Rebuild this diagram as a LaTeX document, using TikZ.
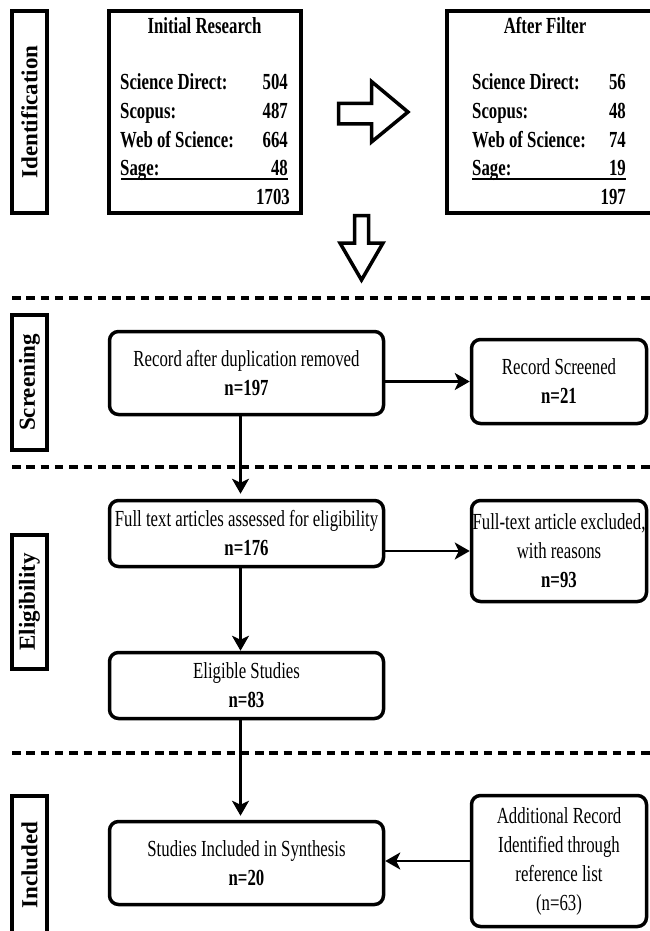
\documentclass[tikz,border=0pt]{standalone}
\usepackage{fontspec}
\setmainfont{Liberation Serif}[FakeStretch=0.73]
\newfontfamily\sidefont{Liberation Serif}
\usetikzlibrary{arrows.meta,calc}

\tikzset{
  sidelabel/.style={draw, line width=4pt, rotate=90, minimum height=35pt, inner sep=0pt,
    font=\sidefont\bfseries\fontsize{23}{28}\selectfont},
  listbox/.style={draw, line width=4pt, minimum height=202pt},
  listtext/.style={font=\bfseries\fontsize{23}{28}\selectfont, inner sep=0pt},
  stepbox/.style={draw, line width=3.5pt, rounded corners=9pt, inner sep=1pt, align=center,
    font=\fontsize{23}{29}\selectfont},
  flow/.style={-{Stealth[length=15pt,width=17pt,inset=4pt]}, line width=2.5pt},
  sepline/.style={line width=4pt, dash pattern=on 8.5pt off 5.8pt},
  bigarrow/.style={line width=3.5pt, line join=miter}
}

\begin{document}
\begin{tikzpicture}[x=1pt,y=-1pt]
\useasboundingbox (0,0) rectangle (649,931);

% Phase labels on the left
\node[sidelabel, minimum width=202pt] (idLab) at (29.5,112) {Identification};
\node[sidelabel, minimum width=135pt] (scLab) at (29.5,382.5) {Screening};
\node[sidelabel, minimum width=134pt] (elLab) at (29.5,602) {Eligibility};
\node[sidelabel, minimum width=138pt] (inLab) at (29.5,865) {Included};

% Separators between phases
\foreach \y in {298,467,753} {
    \draw[sepline] (12,\y) -- (652,\y);
}

% Initial research box
\node[listbox, minimum width=192pt] (init) at (205,112) {};
\node[listtext, anchor=base] (initTitle) at (204.5,34) {Initial Research};
\node[listtext, anchor=base west] (initSD) at (120,90) {Science Direct:}; \node[listtext, anchor=base east] (initSDn) at (288,90) {504};
\node[listtext, anchor=base west] (initSc) at (120,118.5) {Scopus:}; \node[listtext, anchor=base east] (initScn) at (288,118.5) {487};
\node[listtext, anchor=base west] (initWS) at (120,147) {Web of Science:}; \node[listtext, anchor=base east] (initWSn) at (288,147) {664};
\node[listtext, anchor=base west] (initSa) at (120,175.5) {Sage:}; \node[listtext, anchor=base east] (initSan) at (288,175.5) {48};
\draw[line width=1.3pt] (121,179) -- (288,179);
\node[listtext, anchor=base east] (initTot) at (290,204) {1703};

% After filter box (runs past the right edge)
\node[listbox, minimum width=206pt] (after) at (550,112) {};
\node[listtext, anchor=base] (afterTitle) at (545,34) {After Filter};
\node[listtext, anchor=base west] (afterSD) at (472,90) {Science Direct:}; \node[listtext, anchor=base east] (afterSDn) at (626,90) {56};
\node[listtext, anchor=base west] (afterSc) at (472,118.5) {Scopus:}; \node[listtext, anchor=base east] (afterScn) at (626,118.5) {48};
\node[listtext, anchor=base west] (afterWS) at (472,147) {Web of Science:}; \node[listtext, anchor=base east] (afterWSn) at (626,147) {74};
\node[listtext, anchor=base west] (afterSa) at (472,175.5) {Sage:}; \node[listtext, anchor=base east] (afterSan) at (626,175.5) {19};
\draw[line width=1.3pt] (472,179) -- (626,179);
\node[listtext, anchor=base east] (afterTot) at (626,204) {197};

% Hollow block arrows
\draw[bigarrow] (338.5,103.5) -- (371.5,103.5) -- (371.5,81.5) -- (408,112)
    -- (371.5,142) -- (371.5,124) -- (338.5,124) -- cycle;
\draw[bigarrow] (354.5,215.5) -- (368.5,215.5) -- (368.5,243) -- (383,243)
    -- (361.5,280) -- (340,243) -- (354.5,243) -- cycle;

% Flow boxes
\node[stepbox, minimum width=274pt, minimum height=83pt] (dup) at (246.5,373)
    {Record after duplication removed\\\textbf{n=197}};
\node[stepbox, minimum width=175pt, minimum height=84pt] (scr) at (559,381.5)
    {Record Screened\\\textbf{n=21}};
\node[stepbox, minimum width=274pt, minimum height=66pt] (full) at (246.5,533.5)
    {Full text articles assessed for eligibility\\\textbf{n=176}};
\node[stepbox, minimum width=175pt, minimum height=101pt] (excl) at (559,551)
    {Full-text article excluded,\\with reasons\\\textbf{n=93}};
\node[stepbox, minimum width=274pt, minimum height=66pt] (elig) at (246.5,685.5)
    {Eligible Studies\\\textbf{n=83}};
\node[stepbox, minimum width=274pt, minimum height=83pt] (incl) at (246.5,863)
    {Studies Included in Synthesis\\\textbf{n=20}};
\node[stepbox, minimum width=175pt, minimum height=131pt] (addl) at (559,861)
    {Additional Record\\Identified through\\reference list\\(n=63)};

% Connectors
\draw[flow] (dup.east |- scr.west) -- (scr.west);
\draw[flow, shorten >=5pt] ([xshift=-6pt]dup.south) -- ([xshift=-6pt]full.north);
\draw[flow] (full.east |- excl.west) -- (excl.west);
\draw[flow] ([xshift=-6pt]full.south) -- ([xshift=-6pt]elig.north);
\draw[flow, shorten >=4pt] ([xshift=-6pt]elig.south) -- ([xshift=-6pt]incl.north);
\draw[flow] (addl.west) -- (incl.east |- addl.west);

\end{tikzpicture}
\end{document}
